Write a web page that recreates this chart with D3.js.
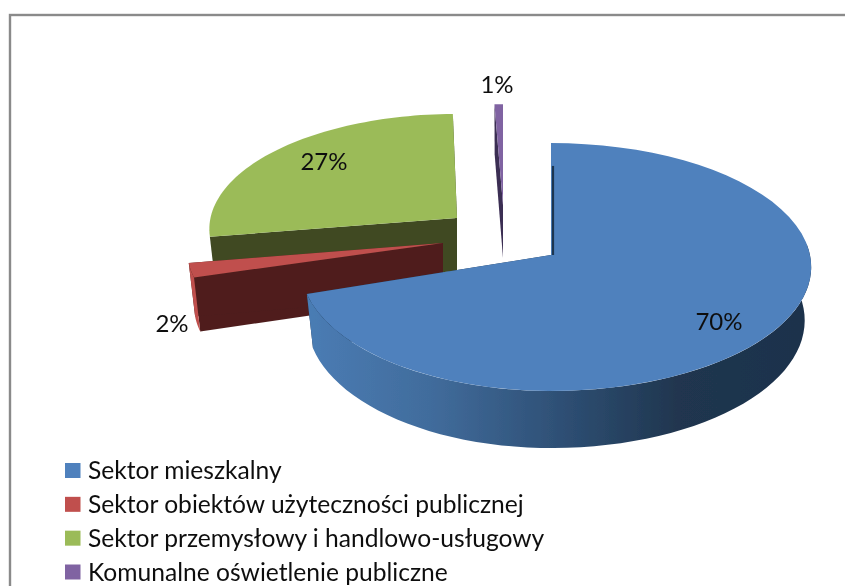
<!DOCTYPE html>
<html><head><meta charset="utf-8">
<script src="https://cdn.jsdelivr.net/npm/d3@7/dist/d3.min.js"></script>
<style>html,body{margin:0;padding:0;background:#fff}svg{display:block}text{font-family:Lato,"Noto Sans",sans-serif;fill:#111}</style>
</head><body><svg id="c" width="845" height="586"></svg>
<script>
const categories = ["Sektor mieszkalny","Sektor obiektów użyteczności publicznej","Sektor przemysłowy i handlowo-usługowy","Komunalne oświetlenie publiczne"];
const values = [70,2.1,27.3,0.6];
const colors = ["#4f81bd","#c0504d","#9bbb59","#8064a2"];
const darkColors = ["#1f3550","#4f1f1e","#3f4a22","#3b2d52"];
const explodeX = [0,-108,-94,-48];
const explodeY = [0,-12,-37,-50];
const sliceScaleX = [1,1.02,0.99,1];
const sliceScaleY = [1,0.88,0.93,0.9];
const sliceRotateDeg = [0,0,1.1,0];
const legendFont = 24.6, labelFont = 24;

const svg = d3.select("#c");
const cx=551, cy=255, Rleft=249, Rright=259, a=122.8, b=0.0968, depth=53, sxB=0.975, syB=1.03;
const pie = d3.pie().sort(null).value(d=>d)(values);

const defs = svg.append("defs");
const soft = defs.append("filter").attr("id","soft").attr("x",0).attr("y",0).attr("width","100%").attr("height","100%");
soft.append("feGaussianBlur").attr("stdDeviation",0.45);
const g = defs.append("linearGradient").attr("id","wall").attr("gradientUnits","userSpaceOnUse")
  .attr("x1",307).attr("x2",800).attr("y1",0).attr("y2",0);
[[0,"#4a7cb4"],[0.25,"#416c9c"],[0.5,"#2f5177"],[0.75,"#20364f"],[1,"#1d324c"]].forEach(s=>g.append("stop").attr("offset",s[0]).attr("stop-color",s[1]));

const scene = svg.append("g").attr("filter","url(#soft)");
scene.append("rect").attr("x",0).attr("y",0).attr("width",845).attr("height",586).attr("fill","#fff");
scene.append("rect").attr("x",10).attr("y",15).attr("width",900).attr("height",700).attr("fill","#fff").attr("stroke","#8a8a8a").attr("stroke-width",2.4);

function proj(th,r,bottom,i){
  const u=r*Math.sin(th), v=-r*Math.cos(th);
  const w=1-b*v;
  const x=(u<0?Rleft:Rright)*sliceScaleX[i]*u/w, y=a*sliceScaleY[i]*v/w;
  return bottom ? [cx+explodeX[i]+x*sxB, cy+explodeY[i]+depth+y*syB] : [cx+explodeX[i]+x, cy+explodeY[i]+y];
}
const line=d3.line();
function arcPts(t0,t1,bottom,i){
  return d3.range(0,61).map(k=>proj(t0+(t1-t0)*k/60,1,bottom,i));
}
const order=[2,3,1,0];
const root=scene.append("g");
order.forEach(i=>{
  const d=pie[i], rot=sliceRotateDeg[i]*Math.PI/180, t0=d.startAngle+rot, t1=d.endAngle+rot;
  const sl=root.append("g");
  const ap=proj(0,0,false,i), apB=proj(0,0,true,i);
  const wall=(th)=>[ap,proj(th,1,false,i),proj(th,1,true,i),apB];
  sl.append("path").attr("d",line(wall(t0))+"Z").attr("fill",darkColors[i]);
  sl.append("path").attr("d",line(wall(t1))+"Z").attr("fill",darkColors[i]);
  if(i===0){
    const f0=Math.PI*0.47;
    const p=arcPts(f0,t1,false,i).concat(arcPts(f0,t1,true,i).reverse());
    sl.append("path").attr("d",line(p)+"Z").attr("fill","url(#wall)");
  } else if(i===1){
    const p=arcPts(t0,t1,false,i).concat(arcPts(t0,t1,true,i).reverse());
    sl.append("path").attr("d",line(p)+"Z").attr("fill",colors[i]);
  }
  const top=[ap].concat(arcPts(t0,t1,false,i));
  sl.append("path").attr("d",line(top)+"Z").attr("fill",colors[i]);
  if(i===0){
    sl.append("path").attr("d",line([proj(0,0,false,i),proj(0,0.78,false,i)])).attr("stroke",darkColors[i]).attr("stroke-width",2.2).attr("fill","none").attr("transform","translate(2,0)");
  }
});

const lab=[[719,320],[172,322],[324,160],[497,83]];
values.forEach((v,i)=>{
  scene.append("text").attr("x",lab[i][0]).attr("y",lab[i][1]).attr("text-anchor","middle").attr("dominant-baseline","central").attr("font-size",labelFont).text(d3.format(".0f")(v)+"%");
});
const ly=d3.scalePoint().domain(categories).range([470.5,572]);
categories.forEach((c,i)=>{
  scene.append("rect").attr("x",65).attr("y",ly(c)-7.5).attr("width",15.5).attr("height",15).attr("fill",colors[i]);
  scene.append("text").attr("x",88).attr("y",ly(c)-1).attr("dominant-baseline","central").attr("font-size",legendFont).text(c);
});
</script></body></html>
